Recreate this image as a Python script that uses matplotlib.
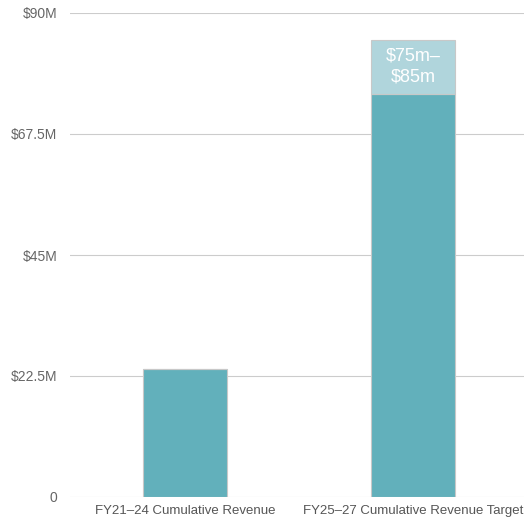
import matplotlib
matplotlib.use("Agg")
import matplotlib.pyplot as plt

categories = ["FY21\u201324 Cumulative Revenue", "FY25\u201327 Cumulative Revenue Target"]
base_values = [23.8, 75.0]          # $M
range_top = [0.0, 10.0]             # extra band on top ($75m-$85m)
band_label = "$75m\u2013\n$85m"
yticks = [0, 22.5, 45, 67.5, 90]
ytick_labels = ["0", "$22.5M", "$45M", "$67.5M", "$90M"]

TEAL, LIGHT = "#62b0bb", "#b0d5dc"

plt.rcParams["font.family"] = ["Liberation Sans", "DejaVu Sans"]
fig = plt.figure(figsize=(5.24, 5.19), dpi=100)
ax = fig.add_axes([70 / 524, 22 / 519, 454 / 524, 484 / 519])

x = range(len(categories))
ax.bar(x, base_values, width=0.37, color=TEAL, edgecolor="#c8c8c8", linewidth=0.8, zorder=3)
ax.bar(x, range_top, bottom=base_values, width=0.37, color=LIGHT, edgecolor="#c8c8c8",
       linewidth=0.8, zorder=3)
ax.text(1, base_values[1] + range_top[1] / 2, band_label, ha="center", va="center",
        color="white", fontsize=13, linespacing=1.3, zorder=4)

ax.set_xlim(-0.505, 1.487)
ax.set_ylim(0, 90)
ax.set_yticks(yticks)
ax.set_yticklabels(ytick_labels)
ax.set_xticks(list(x))
ax.set_xticklabels(categories)
ax.grid(axis="y", color="#cccccc", linewidth=0.8, zorder=0)
for s in ax.spines.values():
    s.set_visible(False)
ax.tick_params(axis="y", length=0, pad=9, labelsize=10, labelcolor="#666666")
ax.tick_params(axis="x", length=0, pad=6, labelsize=9.5, labelcolor="#555555")

fig.savefig("out.png", dpi=100)
